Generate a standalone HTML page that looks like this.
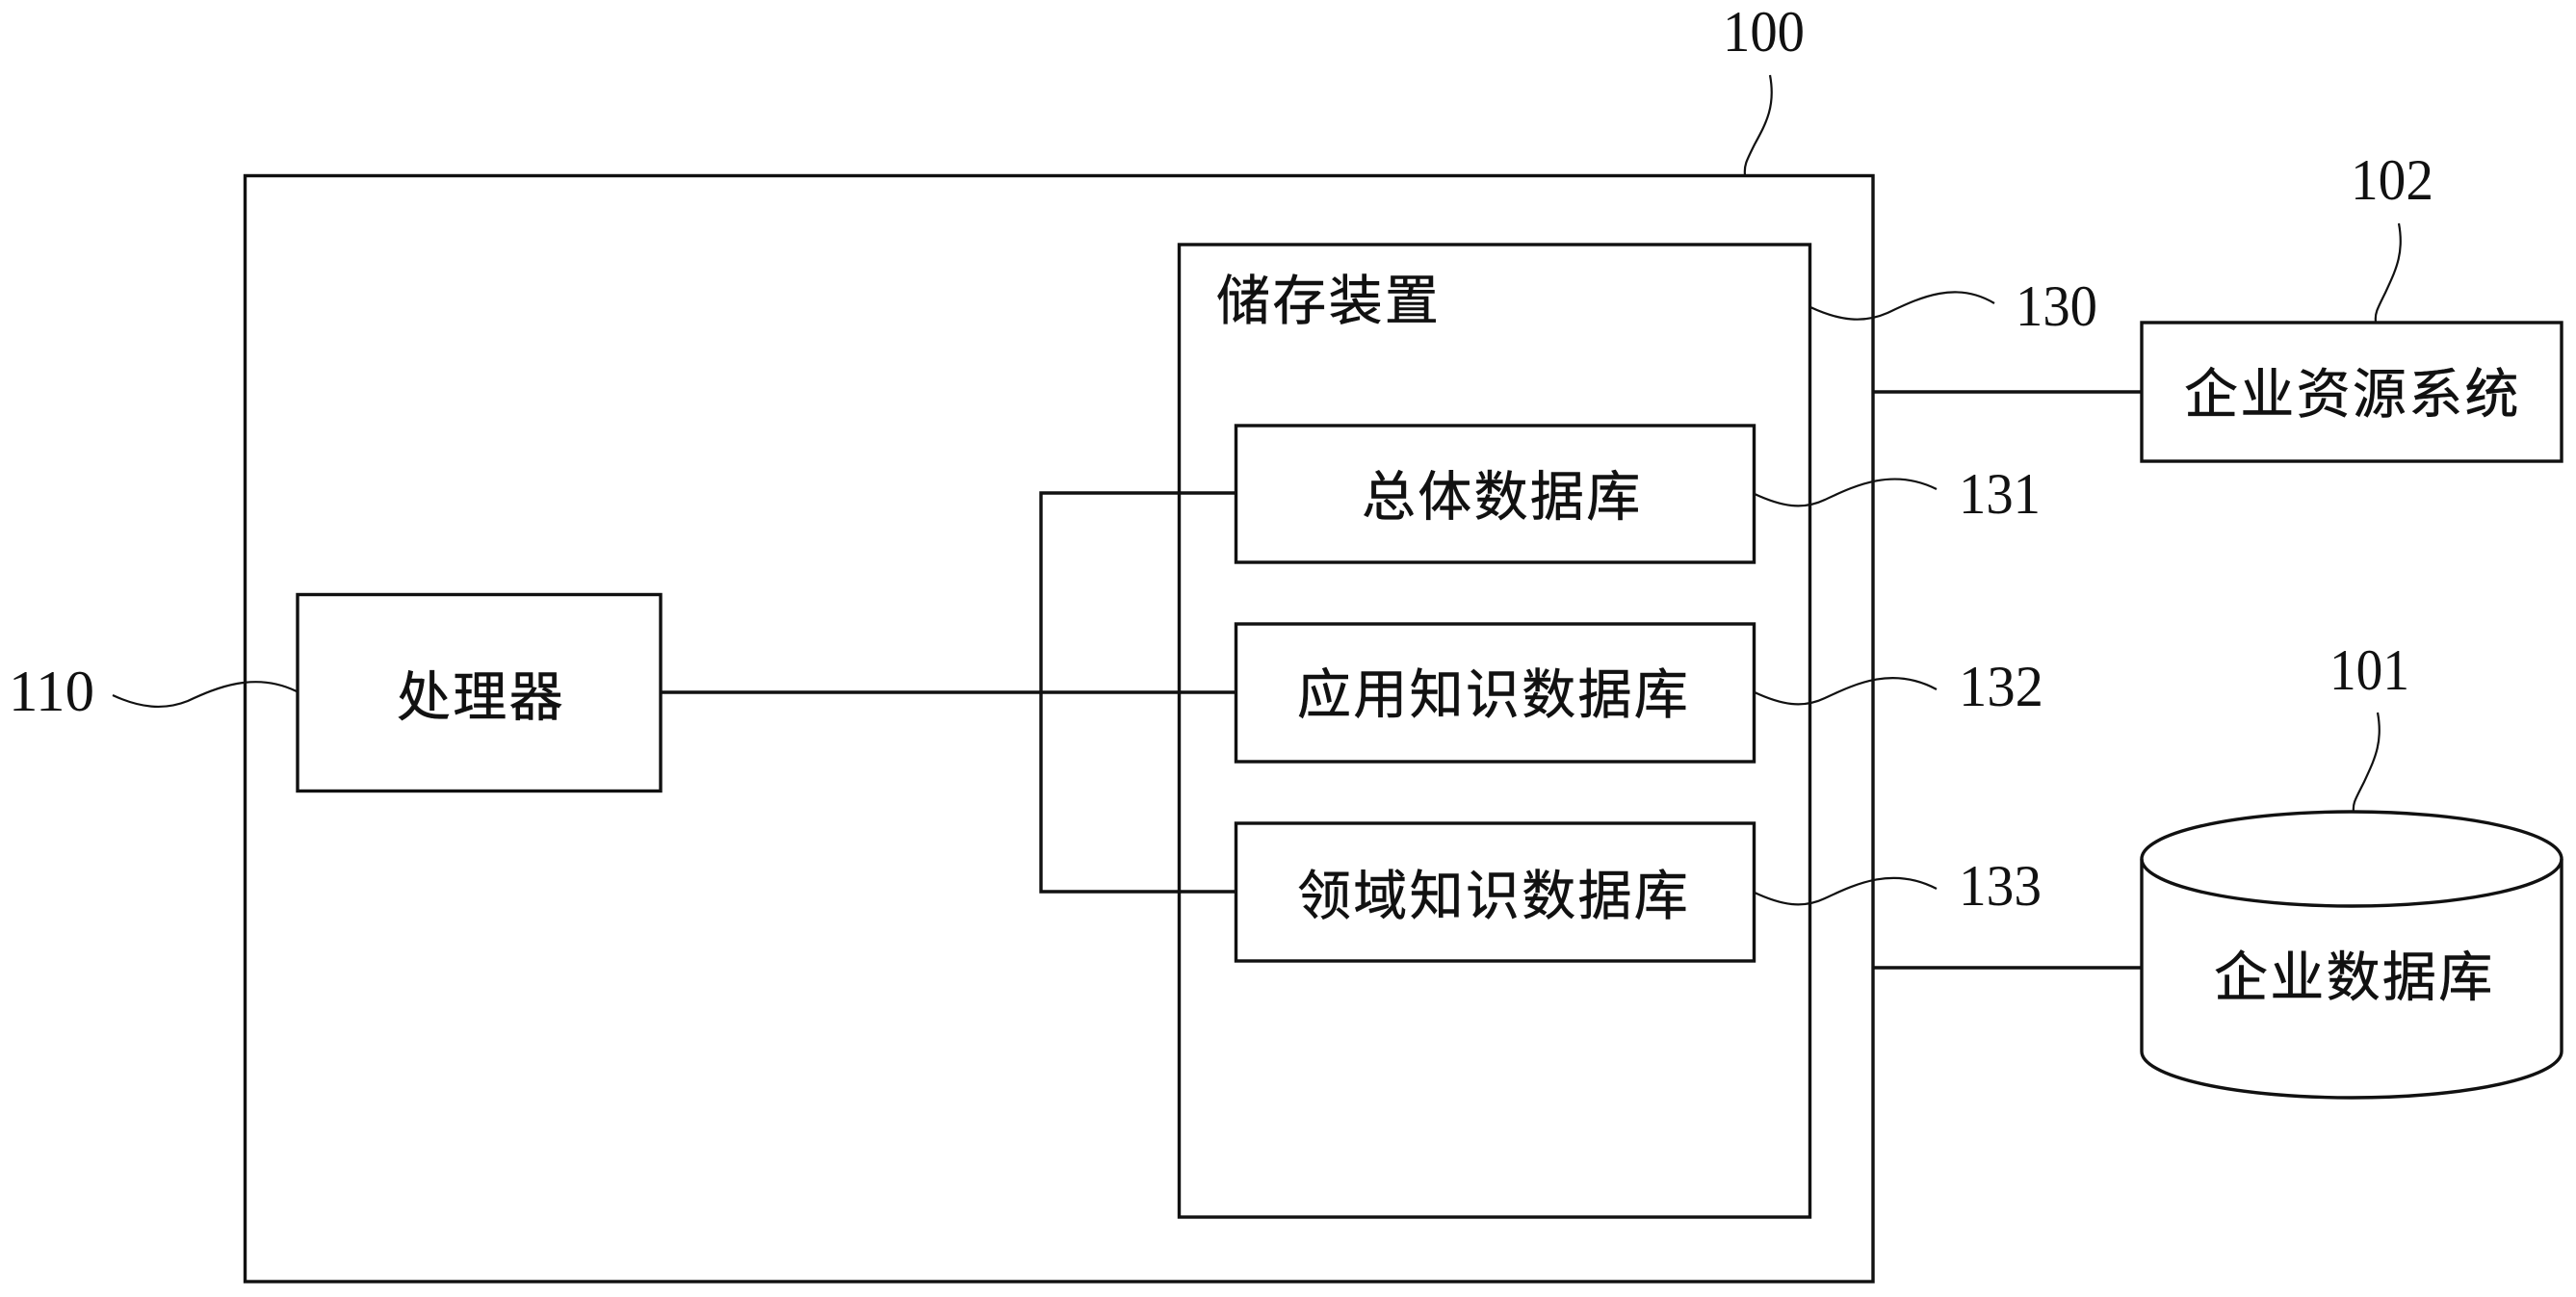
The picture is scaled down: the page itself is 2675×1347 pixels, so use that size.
<!DOCTYPE html>
<html><head><meta charset="utf-8"><style>
html,body{margin:0;padding:0;background:#fff}
svg{display:block}
.z{font-family:"Liberation Sans","Noto Sans CJK SC",sans-serif;font-size:56px;fill:#111;stroke:#111;stroke-width:.5;letter-spacing:2.300px}
.n{font-family:"Liberation Serif",serif;font-size:60px;fill:#111}
.l{fill:none;stroke:#111;stroke-width:3.4}
.w{fill:none;stroke:#111;stroke-width:2.2}
</style></head><body>
<svg width="2675" height="1347" viewBox="0 0 2675 1347" xmlns="http://www.w3.org/2000/svg">
<rect width="2675" height="1347" fill="#fff"/>
<rect class="l" x="254.500" y="182.500" width="1690.500" height="1148.500"/>
<rect class="l" x="1224.500" y="254" width="655" height="1010"/>
<rect class="l" x="1283.500" y="442" width="538" height="142"/>
<rect class="l" x="1283.500" y="648" width="538" height="143"/>
<rect class="l" x="1283.500" y="855" width="538" height="143"/>
<rect class="l" x="309" y="617.500" width="377" height="204"/>
<rect class="l" x="2224" y="335" width="436" height="144"/>
<path class="l" d="M686 719H1283M1283 512H1081V926H1283M1945 407H2224M1945 1005H2224"/>
<path class="l" d="M2224 892A218 49 0 0 1 2660 892V1092A218 48 0 0 1 2224 1092Z"/>
<path class="l" d="M2224 892A218 49 0 0 0 2660 892"/>
<path class="w" d="M1838 78C1844 110 1834 128 1822 150C1813 168 1811 172 1812 182"/>
<path class="w" d="M2491 232C2497 264 2487 282 2477 304C2468 322 2466 326 2467 334"/>
<path class="w" d="M2469 740C2475 772 2465 790 2455 812C2446 830 2443 834 2444 843"/>
<path class="w" d="M1880 319C1910 333 1935 336 1960 325C1990 311 2030 290 2071 315"/>
<path class="w" d="M1822 513C1850 526 1872 530 1895 519C1925 505 1965 485 2011 508"/>
<path class="w" d="M1822 719C1850 732 1872 736 1895 725C1925 711 1965 691 2011 716"/>
<path class="w" d="M1822 927C1850 940 1872 944 1895 933C1925 919 1965 899 2011 923"/>
<path class="w" d="M117 722C145 735 170 738 195 728C225 714 265 697 308 718"/>
<text class="z" x="1263" y="332">储存装置</text>
<text class="z" x="1414" y="535.500">总体数据库</text>
<text class="z" x="1347" y="741">应用知识数据库</text>
<text class="z" x="1347" y="950">领域知识数据库</text>
<text class="z" x="412" y="743.500">处理器</text>
<text class="z" x="2268" y="429">企业资源系统</text>
<text class="z" x="2299" y="1034.500">企业数据库</text>
<text class="n" x="1789" y="53" textLength="85" lengthAdjust="spacingAndGlyphs">100</text>
<text class="n" x="2441" y="207" textLength="86" lengthAdjust="spacingAndGlyphs">102</text>
<text class="n" x="2093" y="338" textLength="85" lengthAdjust="spacingAndGlyphs">130</text>
<text class="n" x="2034" y="533" textLength="85" lengthAdjust="spacingAndGlyphs">131</text>
<text class="n" x="2034" y="733" textLength="88" lengthAdjust="spacingAndGlyphs">132</text>
<text class="n" x="2034" y="940" textLength="86" lengthAdjust="spacingAndGlyphs">133</text>
<text class="n" x="2419" y="716" textLength="83" lengthAdjust="spacingAndGlyphs">101</text>
<text class="n" x="9" y="738" textLength="89" lengthAdjust="spacingAndGlyphs">110</text>
</svg>
</body></html>
